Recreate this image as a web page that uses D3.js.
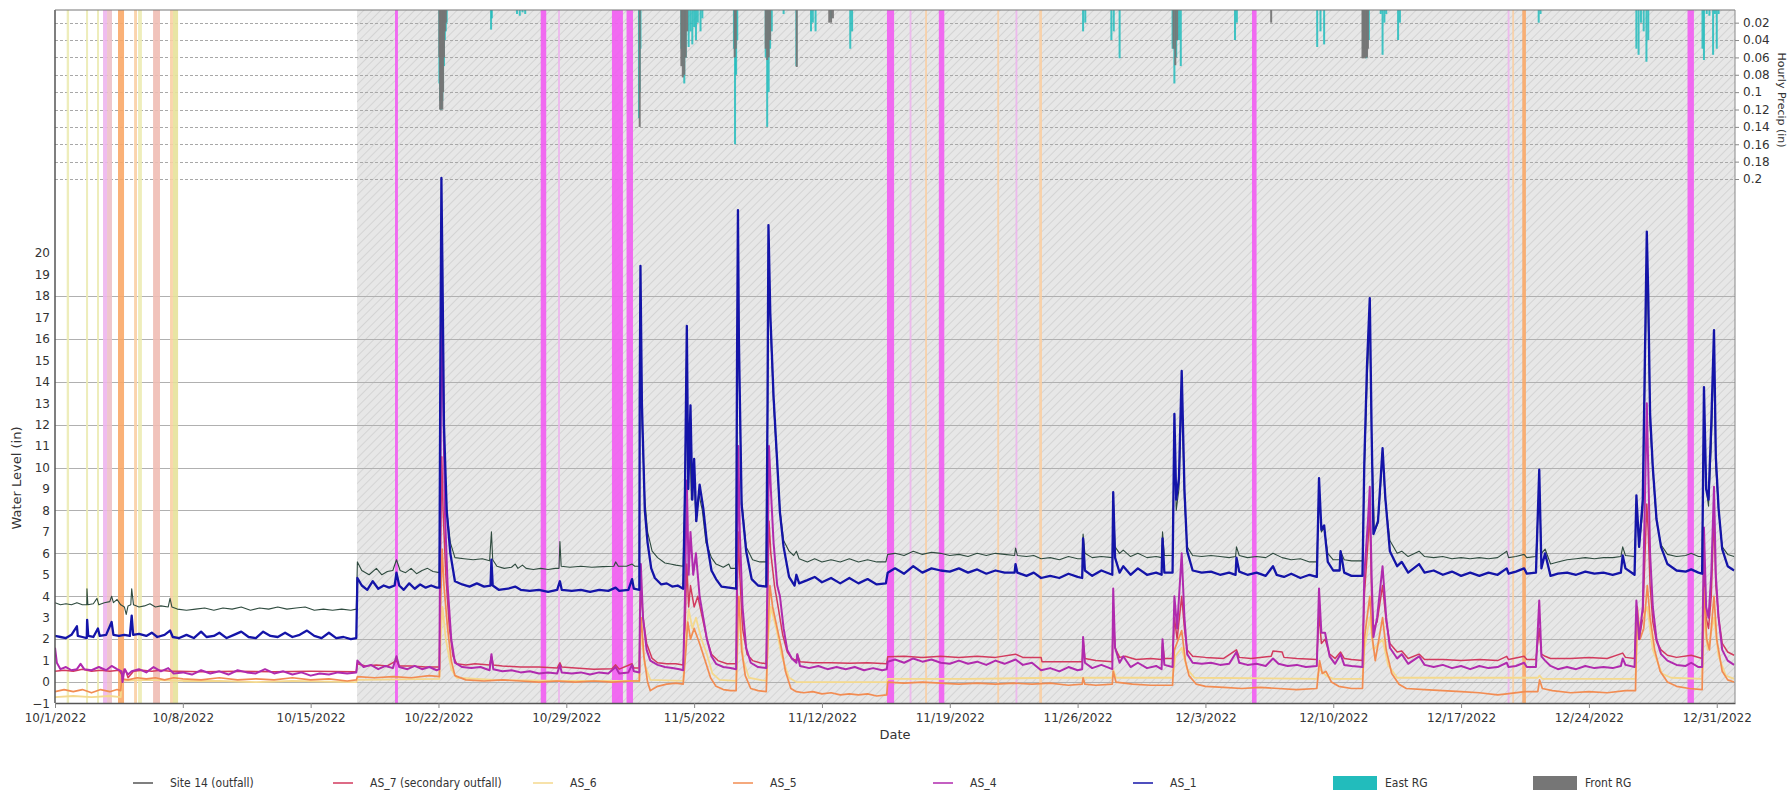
<!DOCTYPE html>
<html>
<head>
<meta charset="utf-8">
<script src="https://cdn.jsdelivr.net/npm/d3@7"></script>
<style>
  body { margin: 0; background: #fff; }
  svg { display: block; }
  text { font-family: "DejaVu Sans", Verdana, sans-serif; fill: #333; }
  .legend text { font-family: "Liberation Sans Narrow", "DejaVu Sans Condensed", sans-serif; font-size: 12px; }
</style>
</head>
<body>
<div id="chart"></div>
<script>
// water level + hourly precip, 10/1/2022 - 12/31/2022
// all series are [day since 10/1/2022 00:00, value]

const [WIDTH, HEIGHT] = [1790, 796]
const MARGIN = { left: 55, right: 55, top: 10, bottom: 93 }

const START = Date.UTC(2022, 9, 1)
const END = Date.UTC(2023, 0, 1)
const HATCH_START_DAY = 16.54 // grey hatched period begins 10/17 ~13:00

const DATE_TICKS = ['10/1/2022', '10/8/2022', '10/15/2022', '10/22/2022', '10/29/2022', '11/5/2022',
  '11/12/2022', '11/19/2022', '11/26/2022', '12/3/2022', '12/10/2022', '12/17/2022', '12/24/2022', '12/31/2022']
const LEVEL_TICKS = d3.range(-1, 21)
const LEVEL_GRID = [0, 2, 4, 6, 8, 10, 12, 14, 16, 18]
const PRECIP_TICKS = [0.02, 0.04, 0.06, 0.08, 0.1, 0.12, 0.14, 0.16, 0.18, 0.2]

const SERIES_NAMES = ['Site 14 (outfall)', 'AS_7 (secondary outfall)', 'AS_6', 'AS_5', 'AS_4', 'AS_1']
const RAIN_NAMES = ['East RG', 'Front RG']

const SITE14 = [
  [0,3.7],[0.3,3.6],[0.6,3.65],[0.9,3.6],[1.2,3.7],[1.5,3.6],[1.74,3.6],[1.75,4.35],[1.8,3.6],[2.1,3.65],[2.3,3.9],[2.4,3.6],
  [2.7,3.7],[3.0,3.75],[3.1,4.0],[3.2,3.7],[3.4,3.85],[3.6,3.6],[3.8,3.5],[3.9,3.15],[4.0,3.55],[4.15,3.6],[4.2,4.35],[4.3,3.6],
  [4.6,3.5],[4.9,3.55],[5.2,3.65],[5.5,3.5],[5.8,3.55],[6.2,3.5],[6.3,3.9],[6.4,3.5],[6.7,3.4],[7.2,3.35],[7.7,3.4],[8.2,3.45],
  [8.7,3.35],[9.2,3.45],[9.7,3.4],[10.2,3.5],[10.7,3.35],[11.2,3.45],[11.7,3.4],[12.2,3.5],[12.7,3.4],[13.2,3.45],[13.7,3.5],
  [14.2,3.35],[14.7,3.4],[15.2,3.35],[15.7,3.4],[16.2,3.35],[16.5,3.4],
  [16.56,5.6],[16.8,5.2],[17.2,5.0],[17.6,5.3],[17.9,5.0],[18.2,5.15],[18.5,5.2],[18.7,5.7],[18.9,5.2],[19.2,5.1],[19.5,5.3],
  [19.8,5.05],[20.1,5.2],[20.4,5.3],[20.7,5.15],[21.05,5.1],
  [21.1,12],[21.16,19.5],[21.22,16],[21.3,11],[21.45,8],[21.65,6.5],[21.9,5.8],[22.4,5.75],[22.9,5.7],[23.4,5.75],[23.8,5.65],
  [23.9,7.0],[23.97,5.7],[24.2,5.4],[24.6,5.3],[25.0,5.35],[25.2,5.5],[25.35,5.3],[25.6,5.45],[25.8,5.3],[26.2,5.25],[26.6,5.3],
  [27.0,5.25],[27.4,5.3],[27.6,5.3],[27.65,6.55],[27.72,5.4],[28.2,5.35],[28.8,5.4],[29.4,5.35],[30.0,5.38],[30.6,5.4],[30.7,5.6],
  [30.85,5.4],[31.3,5.4],[31.6,5.5],[31.75,5.4],[32.0,5.4],
  [32.02,12],[32.06,18.4],[32.15,12],[32.3,8.5],[32.45,7.0],[32.7,6.1],[33.0,5.8],[33.4,5.55],[33.7,5.5],[34.0,5.45],[34.4,5.4],
  [34.5,9],[34.58,15],[34.65,9],[34.75,12],[34.85,8.5],[34.98,10],[35.1,7.5],[35.25,8.8],[35.45,8],[35.65,6.5],[35.95,5.8],
  [36.2,5.5],[36.6,5.35],[36.9,5.5],[37.0,5.3],[37.3,5.3],
  [37.35,14],[37.4,21],[37.45,15],[37.6,8.5],[37.85,6.3],[38.2,5.7],[38.6,5.6],[38.95,5.6],
  [39.02,12],[39.07,20.3],[39.17,16.8],[39.35,13],[39.5,10.8],[39.7,8.0],[39.9,6.6],[40.2,6.1],[40.45,5.9],[40.6,6.1],[40.75,5.75],
  [41.2,5.6],[41.6,5.75],[42.0,5.6],[42.5,5.7],[43.0,5.6],[43.5,5.75],[44.0,5.6],[44.5,5.7],[45.0,5.6],[45.5,5.6],
  [45.6,5.95],[46.0,6.0],[46.5,5.9],[47.0,6.1],[47.5,5.95],[48.0,6.05],[48.5,6.0],[49.0,5.9],[49.5,5.95],[50.0,5.85],[50.5,6.0],
  [51.0,5.9],[51.5,6.0],[52.0,5.95],[52.55,5.9],[52.6,6.25],[52.7,5.9],[53.2,5.85],[53.6,5.9],[54.0,5.75],[54.5,5.8],[55.0,5.7],
  [55.5,5.85],[56.0,5.75],[56.25,5.75],
  [56.3,6.9],[56.4,6.0],[56.8,5.8],[57.3,5.85],[57.9,5.8],
  [57.95,8.6],[58.05,6.3],[58.3,6.0],[58.5,6.15],[58.9,5.85],[59.3,6.0],[59.8,5.8],[60.3,5.85],[60.6,5.8],
  [60.65,7.0],[60.75,5.9],[61.2,5.9],
  [61.3,11.5],[61.4,8],[61.55,9],[61.7,13.5],[61.85,8.5],[62.0,6.3],[62.3,5.9],[62.8,5.85],[63.3,5.9],[63.8,5.85],[64.3,5.8],
  [64.65,5.85],[64.7,6.3],[64.85,5.9],[65.3,5.8],[65.8,5.85],[66.3,5.8],[66.7,6.0],[67.2,5.8],[67.7,5.7],[68.2,5.75],[68.7,5.6],[69.1,5.6],
  [69.22,9.0],[69.35,7.0],[69.5,7.2],[69.7,6.0],[70.0,5.7],[70.35,5.7],[70.4,6.1],[70.6,5.7],[71.0,5.65],[71.6,5.65],
  [71.7,9.8],[71.85,14],[72.0,17.0],[72.1,11.5],[72.25,7.0],[72.45,7.4],[72.7,10.5],[72.85,8.5],[73.1,6.6],[73.5,6.0],[73.75,6.1],
  [74.1,5.85],[74.7,6.1],[75.0,5.85],[75.5,5.8],[76.0,5.85],[76.5,5.75],[77.0,5.8],[77.5,5.75],[78.0,5.8],[78.5,5.75],[79.0,5.8],
  [79.5,6.1],[79.6,5.8],[80.0,5.85],[80.45,5.95],[80.6,5.8],[81.1,5.85],
  [81.28,9.2],[81.4,6.0],[81.6,6.2],[81.9,5.5],[82.3,5.6],[82.8,5.7],[83.3,5.75],[83.8,5.8],[84.3,5.75],[84.8,5.8],[85.3,5.8],
  [85.75,5.85],[85.85,6.3],[86.0,5.9],[86.5,5.85],
  [86.6,8.2],[86.75,6.3],[86.95,8],[87.17,19.5],[87.25,17],[87.35,12],[87.5,9.8],[87.7,7.5],[87.95,6.4],[88.3,5.95],[88.8,5.85],
  [89.3,5.9],[89.6,6.0],[90.0,5.85],[90.2,5.85],
  [90.3,12.8],[90.42,9],[90.55,8.2],[90.7,11],[90.85,15.5],[90.95,10],[91.1,8],[91.3,6.3],[91.6,5.95],[91.95,5.85]
]

const AS_7 = [
  [0,0.5],[0.5,0.55],[1.0,0.5],[1.5,0.6],[2.0,0.5],[2.5,0.55],[3.0,0.5],[3.5,0.55],[3.7,0.3],[3.85,0.6],[4.0,0.2],[4.3,0.5],
  [4.8,0.55],[5.3,0.5],[5.8,0.55],[6.3,0.5],[6.8,0.5],[8.0,0.48],[10.0,0.5],[12.0,0.48],[14.0,0.5],[16.5,0.48],
  [16.56,0.85],[17.0,0.75],[17.6,0.8],[18.2,0.75],[18.7,1.0],[18.85,0.75],[19.5,0.75],[20.3,0.7],[21.05,0.7],
  [21.1,5],[21.18,10.5],[21.25,8],[21.4,5],[21.6,2.5],[21.8,1.2],[22.0,0.85],[22.5,0.8],[23.0,0.85],[23.8,0.8],[23.9,1.2],[24.0,0.8],
  [24.5,0.75],[25.5,0.7],[26.5,0.7],[27.5,0.65],[27.65,0.9],[27.75,0.7],[28.5,0.65],[29.5,0.6],[30.5,0.62],[30.7,0.8],[30.9,0.6],
  [31.6,0.85],[31.7,0.65],[32.0,0.65],
  [32.03,2.5],[32.08,4.5],[32.2,3.0],[32.4,1.8],[32.7,1.1],[33.0,0.9],[33.5,0.85],[34.0,0.85],[34.4,0.8],
  [34.5,2.5],[34.6,5.5],[34.7,3.5],[34.8,4.5],[35.0,3.5],[35.2,4.0],[35.45,3.0],[35.7,2.0],[35.95,1.3],[36.3,1.0],[36.8,0.85],[37.3,0.85],
  [37.36,4],[37.42,7],[37.5,5],[37.65,2.5],[37.9,1.3],[38.2,1.0],[38.6,0.9],[38.95,0.85],
  [39.03,4],[39.1,7.5],[39.2,6],[39.4,4.5],[39.6,3.5],[39.85,2.2],[40.1,1.4],[40.35,1.1],[40.6,1.0],[40.65,1.3],[40.8,0.95],
  [41.5,0.9],[42.5,0.9],[43.5,0.88],[44.5,0.9],[45.55,0.85],
  [45.6,1.18],[46.5,1.2],[47.5,1.15],[48.5,1.2],[49.5,1.15],[50.5,1.2],[51.5,1.15],[52.6,1.3],[53.0,1.15],[54.0,1.15],[54.05,0.95],
  [55.0,0.95],[56.25,0.95],
  [56.3,2.0],[56.4,1.1],[57.0,1.0],[57.9,0.95],
  [57.95,3.2],[58.05,1.6],[58.3,1.15],[58.6,1.2],[59.2,1.05],[60.0,1.1],[60.6,1.05],
  [60.65,1.8],[60.75,1.1],[61.2,1.1],
  [61.3,3],[61.45,2],[61.7,4.0],[61.85,2.5],[62.0,1.5],[62.3,1.2],[63.0,1.15],[64.0,1.1],[64.7,1.5],[64.85,1.15],[65.5,1.1],
  [66.6,1.2],[66.7,1.45],[67.2,1.4],[67.3,1.15],[68.0,1.1],[69.1,1.05],
  [69.22,3.2],[69.35,1.8],[69.55,2.0],[69.8,1.3],[70.1,1.1],[70.4,1.4],[70.6,1.1],[71.0,1.05],[71.6,1.0],
  [71.7,4],[71.9,6.5],[72.0,8.0],[72.1,4],[72.2,2.5],[72.4,2.8],[72.7,4.5],[72.9,2.8],[73.1,1.8],[73.5,1.4],[73.75,1.45],
  [74.1,1.1],[74.7,1.3],[75.0,1.05],[76.0,1.05],[77.0,1.0],[78.0,1.05],[79.0,1.0],[79.5,1.2],[79.6,1.05],[80.45,1.2],[80.6,1.05],[81.1,1.05],
  [81.28,2.5],[81.4,1.3],[81.6,1.2],[81.9,1.1],[83.0,1.1],[84.0,1.15],[85.0,1.1],[85.85,1.35],[86.0,1.15],[86.5,1.1],
  [86.6,3.0],[86.75,2],[86.95,3],[87.17,8.3],[87.25,7],[87.35,4.5],[87.5,2.8],[87.7,1.9],[87.95,1.5],[88.3,1.25],[88.8,1.15],
  [89.6,1.25],[90.2,1.1],
  [90.3,5],[90.42,3],[90.55,2.5],[90.7,4],[90.85,7.8],[90.95,4.5],[91.1,3],[91.3,1.8],[91.6,1.4],[91.95,1.25]
]

const AS_6 = [
  [0,-0.7],[1.0,-0.65],[2.0,-0.7],[3.0,-0.65],[3.6,-0.7],[3.65,0.05],[5.0,0.1],[7.0,0.05],[9.0,0.05],[11.0,0.0],[13.0,0.05],[16.5,0.0],
  [16.56,0.1],[21.05,0.15],
  [21.12,2],[21.22,3.5],[21.4,2],[21.7,0.6],[22.0,0.2],[24.0,0.1],[28.0,0.05],[32.0,0.05],
  [32.05,1.5],[32.12,2.2],[32.3,0.8],[32.6,0.1],[34.4,0.05],
  [34.55,2],[34.7,3.4],[34.9,2.5],[35.1,3.0],[35.4,2.0],[35.7,1.3],[36.0,0.4],[36.4,0.1],[37.3,0.05],
  [37.4,2],[37.5,3.0],[37.7,1.0],[38.0,0.2],[38.95,0.05],
  [39.05,2],[39.2,3.5],[39.5,2.5],[39.8,1.2],[40.2,0.2],[40.6,0.0],[45.55,0.0],
  [45.6,0.15],[50,0.15],[55,0.2],[57.9,0.2],[57.95,0.6],[58.1,0.2],[61.2,0.2],
  [61.35,1.2],[61.7,1.6],[62.0,0.6],[62.4,0.2],[69.1,0.15],[69.25,0.6],[69.6,0.3],[70.0,0.15],[71.6,0.15],
  [71.7,1.5],[72.0,3.0],[72.2,1.5],[72.7,2.0],[73.0,0.8],[73.5,0.2],[79.0,0.2],[81.2,0.2],[81.3,0.3],[81.45,0.15],[86.55,0.15],
  [86.65,2.5],[87.2,3.5],[87.5,1.5],[88.0,0.4],[88.5,0.2],[90.2,0.15],
  [90.3,3.0],[90.5,1.5],[90.85,3.0],[91.1,1.2],[91.5,0.3],[91.95,0.15]
]

const AS_5 = [
  [0,-0.45],[0.5,-0.35],[1.0,-0.45],[1.5,-0.35],[2.0,-0.5],[2.5,-0.35],[3.0,-0.45],[3.4,-0.35],[3.6,-0.4],[3.65,0.15],[4.0,0.1],
  [4.5,0.2],[5.0,0.15],[5.5,0.2],[6.0,0.1],[6.5,0.2],[7.0,0.15],[8.0,0.1],[9.0,0.2],[10.0,0.1],[11.0,0.15],[12.0,0.1],[13.0,0.2],
  [14.0,0.1],[15.0,0.15],[16.0,0.05],[16.5,0.1],
  [16.56,0.25],[17.5,0.2],[18.5,0.25],[19.5,0.2],[20.5,0.3],[21.05,0.25],
  [21.1,3],[21.2,6.2],[21.3,4.5],[21.5,2.5],[21.7,1.0],[21.9,0.3],[22.5,0.1],[23.5,0.05],[24.5,0.1],[25.5,0.05],[26.5,0.0],
  [27.5,0.05],[28.5,0.0],[29.5,0.05],[30.5,0.0],[31.5,0.05],[32.0,0.05],
  [32.04,2],[32.1,3.0],[32.25,1.2],[32.45,0.0],[32.6,-0.4],[33.0,-0.2],[33.5,-0.1],[34.0,-0.05],[34.4,-0.1],
  [34.55,1.5],[34.65,2.8],[34.8,2.0],[35.0,2.5],[35.3,1.8],[35.6,1.0],[35.9,0.2],[36.2,-0.2],[36.6,-0.35],[37.0,-0.4],[37.3,-0.4],
  [37.38,2.5],[37.45,4.0],[37.6,1.5],[37.8,0.3],[38.1,-0.3],[38.5,-0.4],[38.95,-0.45],
  [39.05,2.5],[39.15,4.5],[39.3,3.5],[39.55,2.5],[39.8,1.5],[40.0,0.5],[40.3,-0.3],[40.6,-0.45],[41.0,-0.5],[41.5,-0.45],
  [42.0,-0.55],[42.5,-0.5],[43.0,-0.6],[43.5,-0.55],[44.0,-0.6],[44.5,-0.55],[45.0,-0.65],[45.55,-0.6],
  [45.6,0.0],[46.5,-0.05],[47.5,0.0],[48.5,-0.05],[49.5,-0.1],[50.5,-0.05],[51.5,-0.1],[52.5,-0.05],[53.5,-0.1],[54.5,-0.05],
  [55.5,-0.15],[56.25,-0.1],[56.3,0.2],[56.4,-0.1],[57.0,-0.15],[57.9,-0.1],[57.95,0.5],[58.1,0.0],[59.0,-0.1],[60.0,-0.15],[61.2,-0.15],
  [61.3,1.5],[61.7,2.4],[61.9,1.0],[62.1,0.3],[62.5,-0.1],[63.0,-0.2],[64.0,-0.25],[65.0,-0.3],[66.0,-0.25],[67.0,-0.3],[68.0,-0.35],[69.1,-0.3],
  [69.25,1.0],[69.4,0.4],[69.6,0.5],[69.9,0.0],[70.3,-0.2],[71.0,-0.3],[71.6,-0.3],
  [71.7,2],[72.0,4.0],[72.15,2.0],[72.3,1.0],[72.7,3.0],[72.9,1.5],[73.2,0.4],[73.6,-0.1],[74.0,-0.3],[75.0,-0.35],[76.0,-0.4],
  [77.0,-0.45],[78.0,-0.5],[79.0,-0.6],[79.5,-0.55],[80.5,-0.45],[81.2,-0.45],
  [81.3,0.1],[81.45,-0.3],[82.0,-0.4],[83.0,-0.5],[84.0,-0.45],[85.0,-0.5],[86.0,-0.4],[86.55,-0.4],
  [86.65,3.5],[86.8,2.0],[87.0,2.5],[87.2,4.5],[87.35,3.0],[87.6,1.5],[87.9,0.5],[88.3,0.0],[88.8,-0.2],[89.5,-0.3],[90.2,-0.35],
  [90.3,4.4],[90.45,2],[90.6,1.5],[90.85,4.0],[91.0,2],[91.3,0.5],[91.6,0.1],[91.95,0.0]
]

const AS_4 = [
  [0,1.6],[0.1,0.9],[0.3,0.6],[0.6,0.7],[0.9,0.55],[1.2,0.6],[1.4,0.85],[1.6,0.6],[2.0,0.55],[2.4,0.7],[2.8,0.55],[3.1,0.75],
  [3.4,0.6],[3.65,0.5],[3.7,0.0],[3.8,0.6],[4.0,0.35],[4.2,0.5],[4.6,0.6],[5.0,0.45],[5.4,0.7],[5.8,0.5],[6.2,0.65],[6.5,0.4],
  [7.0,0.45],[7.5,0.35],[8.0,0.55],[8.5,0.4],[9.0,0.5],[9.5,0.35],[10.0,0.55],[10.5,0.45],[11.0,0.4],[11.5,0.6],[12.0,0.4],
  [12.5,0.5],[13.0,0.35],[13.5,0.45],[14.0,0.3],[14.5,0.4],[15.0,0.35],[15.5,0.45],[16.0,0.4],[16.5,0.45],
  [16.56,1.0],[16.9,0.7],[17.3,0.8],[17.7,0.6],[18.1,0.75],[18.5,0.65],[18.7,1.2],[18.85,0.7],[19.3,0.6],[19.7,0.75],[20.1,0.6],
  [20.5,0.7],[20.9,0.55],[21.05,0.6],
  [21.1,8],[21.17,19],[21.25,14],[21.35,8],[21.5,4.5],[21.7,2.0],[21.9,0.9],[22.3,0.7],[22.8,0.65],[23.3,0.7],[23.8,0.55],
  [23.9,1.3],[24.0,0.6],[24.5,0.5],[25.0,0.55],[25.5,0.45],[26.0,0.5],[26.5,0.4],[27.0,0.45],[27.5,0.4],[27.65,0.8],[27.75,0.45],
  [28.3,0.4],[28.8,0.45],[29.3,0.35],[29.8,0.45],[30.3,0.4],[30.7,0.7],[30.9,0.4],[31.4,0.45],[31.6,0.8],[31.7,0.5],[32.0,0.45],
  [32.03,3],[32.08,5.5],[32.2,3.0],[32.4,1.5],[32.6,1.0],[33.0,0.8],[33.4,0.7],[33.8,0.65],[34.2,0.6],[34.4,0.55],
  [34.5,4],[34.6,9.4],[34.7,5],[34.8,7],[34.95,5],[35.1,6],[35.3,4],[35.5,3],[35.7,2],[35.95,1.2],[36.2,0.85],[36.6,0.7],[37.0,0.65],[37.3,0.6],
  [37.36,6],[37.42,11],[37.5,7],[37.65,3.5],[37.85,1.6],[38.1,0.9],[38.5,0.7],[38.95,0.65],
  [39.03,6],[39.1,11],[39.2,9],[39.35,6.5],[39.55,4.5],[39.7,4.0],[39.9,2.5],[40.1,1.5],[40.35,1.1],[40.6,0.9],[40.65,1.3],
  [40.8,0.75],[41.3,0.65],[41.8,0.75],[42.3,0.6],[42.8,0.7],[43.3,0.6],[43.8,0.7],[44.3,0.55],[44.8,0.65],[45.3,0.55],[45.55,0.6],
  [45.6,0.95],[46.0,1.05],[46.5,0.9],[47.0,1.1],[47.5,0.95],[48.0,1.05],[48.5,0.9],[49.0,0.85],[49.5,1.0],[50.0,0.85],[50.5,0.95],
  [51.0,0.8],[51.5,1.0],[52.0,0.85],[52.6,1.05],[53.0,0.8],[53.5,0.9],[54.0,0.55],[54.5,0.65],[55.0,0.5],[55.5,0.7],[56.0,0.55],[56.25,0.6],
  [56.3,2.1],[56.4,0.9],[56.8,0.65],[57.3,0.8],[57.9,0.6],
  [57.95,4.36],[58.05,1.6],[58.3,0.9],[58.5,1.2],[58.9,0.7],[59.3,0.9],[59.8,0.65],[60.3,0.75],[60.6,0.6],
  [60.65,2.0],[60.75,0.8],[61.2,0.7],
  [61.3,4],[61.45,2.5],[61.7,6.0],[61.85,3],[62.0,1.3],[62.3,0.9],[62.8,0.85],[63.3,0.9],[63.8,0.8],[64.3,0.85],[64.7,1.4],
  [64.85,0.9],[65.3,0.8],[65.8,0.85],[66.3,0.75],[66.7,1.1],[67.0,0.85],[67.5,0.75],[68.0,0.8],[68.5,0.7],[69.1,0.75],
  [69.22,4.36],[69.35,2.3],[69.55,2.3],[69.8,1.2],[70.1,0.85],[70.4,1.3],[70.6,0.8],[71.0,0.75],[71.6,0.7],
  [71.7,5],[71.9,7.5],[72.0,9.1],[72.1,5],[72.2,2.1],[72.4,3.0],[72.7,5.4],[72.9,3.0],[73.1,1.6],[73.5,1.1],[73.75,1.3],
  [74.1,0.85],[74.7,1.2],[75.0,0.8],[75.5,0.7],[76.0,0.8],[76.5,0.65],[77.0,0.75],[77.5,0.6],[78.0,0.75],[78.5,0.65],[79.0,0.7],
  [79.5,0.9],[79.6,0.7],[80.0,0.75],[80.45,0.9],[80.6,0.7],[81.1,0.7],
  [81.28,3.8],[81.4,1.2],[81.6,1.0],[81.9,0.75],[82.3,0.6],[82.8,0.7],[83.3,0.6],[83.8,0.75],[84.3,0.65],[84.8,0.7],[85.3,0.65],
  [85.75,0.75],[85.85,1.1],[86.0,0.8],[86.5,0.7],
  [86.6,3.8],[86.75,2.0],[86.95,3.5],[87.17,13],[87.25,10],[87.35,6],[87.5,3.5],[87.7,2.0],[87.95,1.3],[88.3,1.0],[88.8,0.8],
  [89.3,0.75],[89.6,0.9],[90.0,0.7],[90.2,0.7],
  [90.3,7.2],[90.42,3.5],[90.55,3.0],[90.7,5],[90.85,9.1],[90.95,5],[91.1,3],[91.3,1.5],[91.6,1.0],[91.95,0.8]
]

const AS_1 = [
  [0,2.15],[0.3,2.1],[0.6,2.05],[0.9,2.2],[1.2,2.6],[1.25,2.15],[1.5,2.1],[1.74,2.05],[1.76,2.9],[1.82,2.15],[2.1,2.1],[2.35,2.5],
  [2.45,2.15],[2.8,2.2],[3.1,2.8],[3.2,2.2],[3.5,2.15],[3.8,2.2],[4.1,2.15],[4.2,3.1],[4.28,2.2],[4.6,2.25],[5.0,2.15],[5.3,2.3],
  [5.6,2.1],[6.0,2.2],[6.3,2.4],[6.45,2.1],[6.8,2.05],[7.2,2.2],[7.6,2.05],[8.0,2.35],[8.3,2.1],[8.7,2.15],[9.0,2.3],[9.4,2.05],
  [9.8,2.2],[10.2,2.35],[10.6,2.1],[11.0,2.05],[11.4,2.35],[11.8,2.15],[12.2,2.1],[12.6,2.3],[13.0,2.1],[13.4,2.2],[13.8,2.4],
  [14.2,2.15],[14.6,2.05],[15.0,2.3],[15.4,2.05],[15.8,2.1],[16.2,2.0],[16.5,2.05],
  [16.56,4.85],[16.8,4.5],[17.1,4.3],[17.4,4.7],[17.7,4.35],[18.0,4.5],[18.3,4.4],[18.6,4.5],[18.7,5.1],[18.85,4.5],[19.1,4.3],
  [19.4,4.6],[19.7,4.35],[20.0,4.55],[20.3,4.4],[20.6,4.5],[20.9,4.4],[21.05,4.4],
  [21.1,14],[21.16,23.5],[21.22,19],[21.3,12],[21.45,8],[21.65,6.0],[21.9,4.7],[22.3,4.55],[22.7,4.45],[23.1,4.6],[23.5,4.45],
  [23.85,4.5],[23.9,5.7],[23.97,4.5],[24.3,4.3],[24.8,4.35],[25.2,4.45],[25.5,4.3],[26.0,4.25],[26.5,4.3],[27.0,4.2],[27.5,4.3],
  [27.65,4.7],[27.75,4.3],[28.3,4.25],[28.8,4.3],[29.3,4.2],[29.8,4.3],[30.3,4.25],[30.7,4.4],[30.9,4.25],[31.4,4.3],[31.6,4.8],
  [31.7,4.35],[32.0,4.3],
  [32.02,13],[32.06,19.4],[32.14,13],[32.3,8.0],[32.45,6.5],[32.65,5.3],[32.85,4.85],[33.2,4.55],[33.5,4.6],[33.8,4.45],[34.1,4.5],[34.4,4.35],
  [34.5,9],[34.6,16.6],[34.68,9],[34.8,12.9],[34.9,8.5],[35.0,10.4],[35.12,7.5],[35.3,9.2],[35.5,8.1],[35.7,6.5],[35.95,5.2],
  [36.2,4.8],[36.5,4.45],[36.9,4.4],[37.3,4.35],
  [37.35,15],[37.4,22],[37.45,16],[37.6,8.3],[37.85,6.1],[38.15,4.8],[38.5,4.5],[38.95,4.45],
  [39.02,13],[39.07,21.3],[39.17,17.2],[39.35,13.3],[39.5,11],[39.7,7.9],[39.9,6.3],[40.2,4.9],[40.5,4.5],[40.6,5.0],[40.75,4.6],
  [41.2,4.75],[41.6,4.9],[42.0,4.65],[42.5,4.85],[43.0,4.6],[43.5,4.85],[44.0,4.6],[44.5,4.8],[45.0,4.55],[45.5,4.6],
  [45.6,5.1],[46.0,5.3],[46.5,5.05],[47.0,5.4],[47.5,5.1],[48.0,5.3],[48.5,5.2],[49.0,5.15],[49.5,5.3],[50.0,5.1],[50.5,5.25],
  [51.0,5.05],[51.5,5.2],[52.0,5.1],[52.55,5.1],[52.6,5.5],[52.7,5.1],[53.2,4.95],[53.6,5.1],[54.0,4.85],[54.5,4.95],[55.0,4.85],
  [55.5,5.05],[56.0,4.9],[56.25,4.85],
  [56.3,6.7],[56.4,5.2],[56.8,4.95],[57.3,5.2],[57.9,5.0],
  [57.95,8.85],[58.05,5.8],[58.3,5.1],[58.5,5.4],[58.9,5.0],[59.3,5.3],[59.8,5.0],[60.3,5.1],[60.6,5.0],
  [60.65,6.7],[60.75,5.1],[61.2,5.1],
  [61.3,12.5],[61.4,8.5],[61.55,9.5],[61.7,14.5],[61.85,9],[62.0,6.1],[62.3,5.2],[62.8,5.1],[63.3,5.15],[63.8,5.0],[64.3,5.1],
  [64.65,5.0],[64.7,5.8],[64.85,5.15],[65.3,5.0],[65.8,5.1],[66.3,4.95],[66.7,5.4],[66.9,5.0],[67.3,4.9],[67.7,5.05],[68.2,4.85],
  [68.7,5.0],[69.1,4.9],
  [69.22,9.5],[69.35,7.1],[69.5,7.3],[69.7,5.6],[70.0,5.2],[70.35,5.2],[70.4,6.1],[70.6,5.1],[71.0,4.95],[71.6,4.95],
  [71.7,10.2],[71.85,14.8],[72.0,17.9],[72.1,11.7],[72.2,6.9],[72.45,7.5],[72.7,10.9],[72.85,8.6],[73.1,6.1],[73.5,5.4],[73.75,5.6],
  [74.1,5.1],[74.7,5.5],[75.0,5.1],[75.5,5.2],[76.0,5.0],[76.5,5.15],[77.0,4.95],[77.5,5.1],[78.0,4.95],[78.5,5.1],[79.0,5.0],
  [79.5,5.3],[79.6,5.05],[80.0,5.15],[80.45,5.3],[80.6,5.05],[81.1,5.1],
  [81.28,9.9],[81.4,5.3],[81.6,6.0],[81.9,4.95],[82.3,5.05],[82.8,5.1],[83.3,5.0],[83.8,5.15],[84.3,5.05],[84.8,5.1],[85.3,5.0],
  [85.75,5.1],[85.85,5.9],[86.0,5.3],[86.5,5.0],
  [86.6,8.7],[86.75,6.3],[86.95,8.5],[87.17,21],[87.25,18],[87.35,12.5],[87.5,10],[87.7,7.6],[87.95,6.3],[88.3,5.5],[88.8,5.2],
  [89.3,5.15],[89.6,5.25],[90.0,5.1],[90.2,5.05],
  [90.3,13.75],[90.42,9],[90.55,8.5],[90.7,12],[90.85,16.4],[90.95,10.5],[91.1,8.1],[91.3,6.2],[91.6,5.4],[91.95,5.2]
]

// hourly rain, [day, inches]
const EAST_RG = [
  [21.05,0.09],[21.09,0.11],[21.13,0.12],[21.17,0.12],[21.21,0.11],[21.25,0.1],[21.3,0.07],[21.35,0.04],[21.4,0.03],[21.45,0.02],
  [23.88,0.028],[23.92,0.015],[25.3,0.01],[25.45,0.012],[25.6,0.008],[25.75,0.01],
  [31.98,0.13],[32.02,0.1],[32.06,0.05],
  [34.3,0.05],[34.38,0.07],[34.46,0.09],[34.54,0.06],[34.7,0.048],[34.8,0.03],[34.9,0.045],[35.0,0.025],[35.1,0.04],[35.2,0.02],[35.35,0.03],[35.45,0.015],
  [37.18,0.05],[37.24,0.16],[37.3,0.08],[37.36,0.04],
  [38.92,0.06],[39.0,0.14],[39.08,0.1],[39.16,0.05],[39.25,0.03],
  [39.9,0.01],[40.6,0.07],[41.4,0.03],[41.5,0.02],[41.65,0.03],[42.5,0.015],[43.55,0.05],[43.65,0.03],
  [56.3,0.03],[56.42,0.02],[57.85,0.04],[57.98,0.03],[58.3,0.061],
  [61.2,0.05],[61.3,0.09],[61.4,0.06],[61.55,0.04],[61.65,0.07],
  [64.62,0.04],[64.72,0.02],[69.12,0.048],[69.3,0.03],[69.5,0.045],
  [71.65,0.05],[71.8,0.061],[71.95,0.04],[72.6,0.01],[72.7,0.057],[72.8,0.02],[72.9,0.01],[73.55,0.04],[73.65,0.02],
  [81.25,0.02],[81.35,0.01],
  [86.6,0.05],[86.72,0.057],[86.85,0.02],[87.0,0.03],[87.15,0.065],[87.25,0.04],
  [90.22,0.05],[90.3,0.063],[90.45,0.01],[90.6,0.012],[90.8,0.057],[90.9,0.01],[91.0,0.05],[91.1,0.01]
]

const FRONT_RG = [
  [21.05,0.06],[21.09,0.12],[21.13,0.12],[21.17,0.11],[21.21,0.12],[21.25,0.1],[21.3,0.06],[21.35,0.03],[21.4,0.02],
  [32.02,0.14],[34.3,0.07],[34.38,0.083],[34.46,0.08],[34.54,0.06],[34.62,0.03],
  [37.22,0.06],[37.28,0.05],[38.92,0.05],[39.0,0.063],[39.08,0.06],[39.16,0.04],
  [40.62,0.071],[42.4,0.02],[42.5,0.02],[42.6,0.015],
  [61.25,0.05],[61.35,0.069],[61.45,0.04],[66.6,0.02],
  [71.6,0.061],[71.65,0.061],[71.7,0.06],[71.75,0.061],[71.8,0.058],[71.85,0.06],[71.9,0.05]
]

// flagged periods per sensor, [start day, end day, sensor, kind]
const FLAG_BANDS = [
  [0.64,0.77,'AS_6','suspect'],[1.70,1.81,'AS_6','suspect'],[2.30,2.41,'AS_6','suspect'],[2.63,2.85,'AS_4','suspect'],
  [2.85,3.12,'AS_7','suspect'],[3.45,3.78,'AS_5','missing'],[4.33,4.49,'AS_5','suspect'],[4.55,4.76,'AS_6','suspect'],
  [5.37,5.75,'AS_7','missing'],[6.30,6.46,'AS_5','suspect'],[6.46,6.74,'AS_6','missing'],
  [18.62,18.78,'AS_4','missing'],[26.6,26.9,'AS_4','missing'],[27.55,27.65,'AS_4','suspect'],[30.5,31.1,'AS_4','missing'],
  [31.3,31.65,'AS_4','missing'],[45.56,45.95,'AS_4','missing'],[46.8,46.9,'AS_4','suspect'],[47.65,47.75,'AS_5','suspect'],
  [48.4,48.7,'AS_4','missing'],[51.6,51.7,'AS_5','suspect'],[52.6,52.7,'AS_4','suspect'],[53.9,54.05,'AS_5','suspect'],
  [65.55,65.8,'AS_4','missing'],[79.55,79.65,'AS_4','suspect'],[79.8,79.9,'AS_5','suspect'],[80.35,80.55,'AS_5','missing'],
  [89.4,89.75,'AS_4','missing']
]

const COLORS = {
  'Site 14 (outfall)': '#2f4b3f',
  'AS_7 (secondary outfall)': '#d23a5e',
  'AS_6': '#f4d98e',
  'AS_5': '#f28c52',
  'AS_4': '#b02aae',
  'AS_1': '#1414a8',
  'East RG': '#22bcbc',
  'Front RG': '#767676',
}
const BAND_COLORS = {
  'AS_4': ['#f25cf2', '#edb5ed'],
  'AS_5': ['#f9a868', '#f9cfa4'],
  'AS_6': ['#e6e29a', '#ecebb4'],
  'AS_7': ['#efbdb4', '#edc0c8'],
}

const state = {}

function dayToDate(d) { return new Date(START + d * 864e5) }

function main() {
  const svg = d3.select('#chart').append('svg')
    .attr('width', WIDTH)
    .attr('height', HEIGHT)
    .attr('viewBox', [0, 0, WIDTH, HEIGHT])

  const x = d3.scaleUtc([new Date(START), new Date(END)], [MARGIN.left, WIDTH - MARGIN.right])
  const y = d3.scaleLinear([-1, 20], [703.5, 253])
  const yRain = d3.scaleLinear([0, 0.2], [5.3, 179])
  state.x = x; state.y = y; state.yRain = yRain

  const plotTop = MARGIN.top, plotBottom = HEIGHT - MARGIN.bottom
  const plotLeft = MARGIN.left, plotRight = WIDTH - MARGIN.right

  const defs = svg.append('defs')
  defs.append('clipPath').attr('id', 'plot-clip')
    .append('rect')
    .attr('x', plotLeft).attr('y', plotTop)
    .attr('width', plotRight - plotLeft).attr('height', plotBottom - plotTop)
  const hatch = defs.append('pattern')
    .attr('id', 'hatch')
    .attr('patternUnits', 'userSpaceOnUse')
    .attr('width', 6).attr('height', 6)
    .attr('patternTransform', 'rotate(45)')
  hatch.append('rect').attr('width', 6).attr('height', 6).attr('fill', '#e7e7e7')
  hatch.append('line').attr('x1', 0).attr('y1', 0).attr('x2', 0).attr('y2', 6)
    .attr('stroke', '#d0d0d0').attr('stroke-width', 1.6)

  const plot = svg.append('g').attr('clip-path', 'url(#plot-clip)')

  // hatched record period
  plot.append('rect')
    .attr('x', x(dayToDate(HATCH_START_DAY)))
    .attr('y', plotTop)
    .attr('width', plotRight - x(dayToDate(HATCH_START_DAY)))
    .attr('height', plotBottom - plotTop)
    .attr('fill', 'url(#hatch)')

  // grid lines
  plot.append('g').selectAll('line')
    .data(PRECIP_TICKS)
    .join('line')
    .attr('x1', plotLeft).attr('x2', plotRight)
    .attr('y1', d => Math.round(yRain(d)) + 0.5).attr('y2', d => Math.round(yRain(d)) + 0.5)
    .attr('stroke', '#a8a8a8').attr('stroke-dasharray', '3,2')
  plot.append('g').selectAll('line')
    .data(LEVEL_GRID)
    .join('line')
    .attr('x1', plotLeft).attr('x2', plotRight)
    .attr('y1', d => Math.round(y(d)) + 0.5).attr('y2', d => Math.round(y(d)) + 0.5)
    .attr('stroke', '#b0b0b0')

  // flag bands
  plot.append('g').selectAll('rect')
    .data(FLAG_BANDS)
    .join('rect')
    .attr('x', d => x(dayToDate(d[0])))
    .attr('width', d => Math.max(1.5, x(dayToDate(d[1])) - x(dayToDate(d[0]))))
    .attr('y', plotTop).attr('height', plotBottom - plotTop)
    .attr('fill', d => BAND_COLORS[d[2]][d[3] === 'missing' ? 0 : 1])
    .attr('opacity', 0.9)

  // water level lines
  const series = [SITE14, AS_7, AS_6, AS_5, AS_4, AS_1]
  const widths = [1.1, 1.5, 1.8, 1.7, 2.0, 2.3]
  const line = d3.line()
    .x(p => x(dayToDate(p[0])))
    .y(p => y(p[1]))
  plot.append('g').selectAll('path')
    .data(series)
    .join('path')
    .attr('fill', 'none')
    .attr('stroke', (d, i) => COLORS[SERIES_NAMES[i]])
    .attr('stroke-width', (d, i) => widths[i])
    .attr('stroke-linejoin', 'round')
    .attr('d', line)

  // rain bars hanging from top
  const hourPx = x(dayToDate(1 / 24)) - x(dayToDate(0))
  const rain = [EAST_RG, FRONT_RG]
  rain.forEach((bars, i) => {
    plot.append('g').selectAll('rect')
      .data(bars)
      .join('rect')
      .attr('x', d => x(dayToDate(d[0])) - 1)
      .attr('width', Math.max(2, hourPx * 2))
      .attr('y', plotTop)
      .attr('height', d => Math.max(0, yRain(d[1]) - plotTop))
      .attr('fill', COLORS[RAIN_NAMES[i]])
      .attr('opacity', i === 0 ? 0.85 : 0.95)
  })

  drawAxes(svg, plotLeft, plotRight, plotTop, plotBottom)
  drawLegend(svg)
}

function drawAxes(svg, plotLeft, plotRight, plotTop, plotBottom) {
  const { x, y, yRain } = state
  const parse = d3.utcParse('%m/%d/%Y')

  const xAxis = d3.axisBottom(x)
    .tickValues(DATE_TICKS.map(parse))
    .tickFormat((d, i) => DATE_TICKS[i])
    .tickSize(5).tickSizeOuter(0).tickPadding(5)
  svg.append('g')
    .attr('transform', `translate(0,${plotBottom})`)
    .call(xAxis)
    .call(g => g.select('.domain').attr('stroke', '#555').attr('stroke-width', 1.5))
    .call(g => g.selectAll('.tick line').attr('stroke', '#888'))
    .call(g => g.selectAll('.tick text').attr('font-size', 12).attr('fill', '#333'))

  const yAxis = d3.axisLeft(y).tickValues(LEVEL_TICKS).tickSize(0).tickPadding(5)
  svg.append('g')
    .attr('transform', `translate(${plotLeft},0)`)
    .call(yAxis)
    .call(g => g.select('.domain').remove())
    .call(g => g.selectAll('.tick text').attr('font-size', 12).attr('fill', '#333'))

  const rAxis = d3.axisRight(yRain).tickValues(PRECIP_TICKS).tickFormat(d3.format('')).tickSize(4).tickPadding(4)
  svg.append('g')
    .attr('transform', `translate(${plotRight},0)`)
    .call(rAxis)
    .call(g => g.select('.domain').remove())
    .call(g => g.selectAll('.tick line').attr('stroke', '#888'))
    .call(g => g.selectAll('.tick text').attr('font-size', 12).attr('fill', '#333'))

  // frame
  svg.append('line').attr('x1', plotLeft).attr('x2', plotLeft).attr('y1', plotTop).attr('y2', plotBottom)
    .attr('stroke', '#555').attr('stroke-width', 1.5)
  svg.append('line').attr('x1', plotLeft).attr('x2', plotRight).attr('y1', plotTop).attr('y2', plotTop)
    .attr('stroke', '#777').attr('stroke-width', 1.2)
  svg.append('line').attr('x1', plotRight).attr('x2', plotRight).attr('y1', plotTop).attr('y2', plotBottom)
    .attr('stroke', '#888').attr('stroke-width', 1)

  svg.append('text')
    .attr('transform', `translate(21,478) rotate(-90)`)
    .attr('text-anchor', 'middle')
    .attr('font-size', 13)
    .attr('fill', '#444')
    .text('Water Level (in)')
  svg.append('text')
    .attr('x', (plotLeft + plotRight) / 2).attr('y', 739)
    .attr('text-anchor', 'middle')
    .attr('font-size', 13)
    .attr('fill', '#444')
    .text('Date')
  svg.append('text')
    .attr('transform', `translate(1778,100) rotate(90)`)
    .attr('text-anchor', 'middle')
    .attr('font-size', 11)
    .attr('fill', '#444')
    .text('Hourly Precip (in)')
}

function drawLegend(svg) {
  const items = SERIES_NAMES.map(n => ({ name: n, kind: 'line' }))
    .concat(RAIN_NAMES.map(n => ({ name: n, kind: 'box' })))
  const g = svg.append('g').attr('class', 'legend')
  const item = g.selectAll('g')
    .data(items)
    .join('g')
    .attr('transform', (d, i) => `translate(${133 + i * 200},783)`)
  item.filter(d => d.kind === 'line').append('line')
    .attr('x1', 0).attr('x2', 20).attr('y1', 0).attr('y2', 0)
    .attr('stroke', d => d.name === 'Site 14 (outfall)' ? '#555' : COLORS[d.name])
    .attr('stroke-width', 1.5)
  item.filter(d => d.kind === 'box').append('rect')
    .attr('x', 0).attr('y', -7).attr('width', 44).attr('height', 14)
    .attr('fill', d => COLORS[d.name])
  item.append('text')
    .attr('x', d => d.kind === 'box' ? 52 : 37)
    .attr('dy', '0.35em')
    .text(d => d.name)
}

main()
</script>
</body>
</html>
